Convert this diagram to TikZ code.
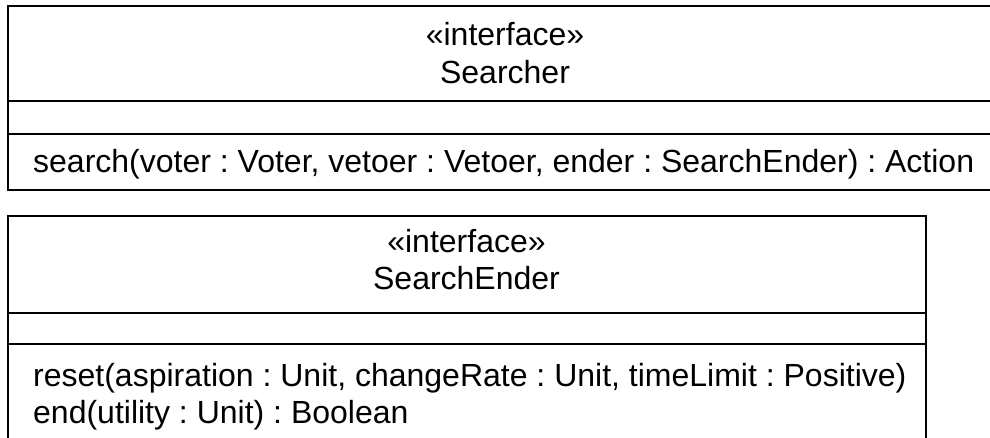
\documentclass[tikz,border=0pt]{standalone}
\usepackage{fontspec}
\setmainfont{Liberation Sans}
\begin{document}
\frenchspacing
\begin{tikzpicture}[x=1pt,y=-1pt,
  box/.style={line width=2pt,draw=black},
  umltext/.style={inner sep=0pt,font=\fontsize{32}{37}\selectfont,text=black},
  title/.style={umltext,anchor=base},
  member/.style={umltext,anchor=base west}]
\useasboundingbox (0,0) rectangle (990,438);
\clip (0,0) rectangle (990,438);

% interface Searcher
\draw[box] (7.5,6) rectangle (1003,190);
\draw[box] (7.5,101) -- (1003,101);
\draw[box] (7.5,134) -- (1003,134);
\node[title] (searcherStereo) at (505,46) {«interface»};
\node[title] (searcherName) at (505,84) {Searcher};
\node[member] (searchOp) at (33,173) {search(voter : Voter, vetoer : Vetoer, ender : SearchEnder) : Action};

% interface SearchEnder
\draw[box] (7.5,216) rectangle (925.7,470);
\draw[box] (7.5,313) -- (925.7,313);
\draw[box] (7.5,344) -- (925.7,344);
\node[title] (enderStereo) at (466.5,253) {«interface»};
\node[title] (enderName) at (466.5,289) {SearchEnder};
\node[member] (resetOp) at (33,386.7) {reset(aspiration : Unit, changeRate : Unit, timeLimit : Positive)};
\node[member] (endOp) at (33,423.3) {end(utility : Unit) : Boolean};
\end{tikzpicture}
\end{document}
